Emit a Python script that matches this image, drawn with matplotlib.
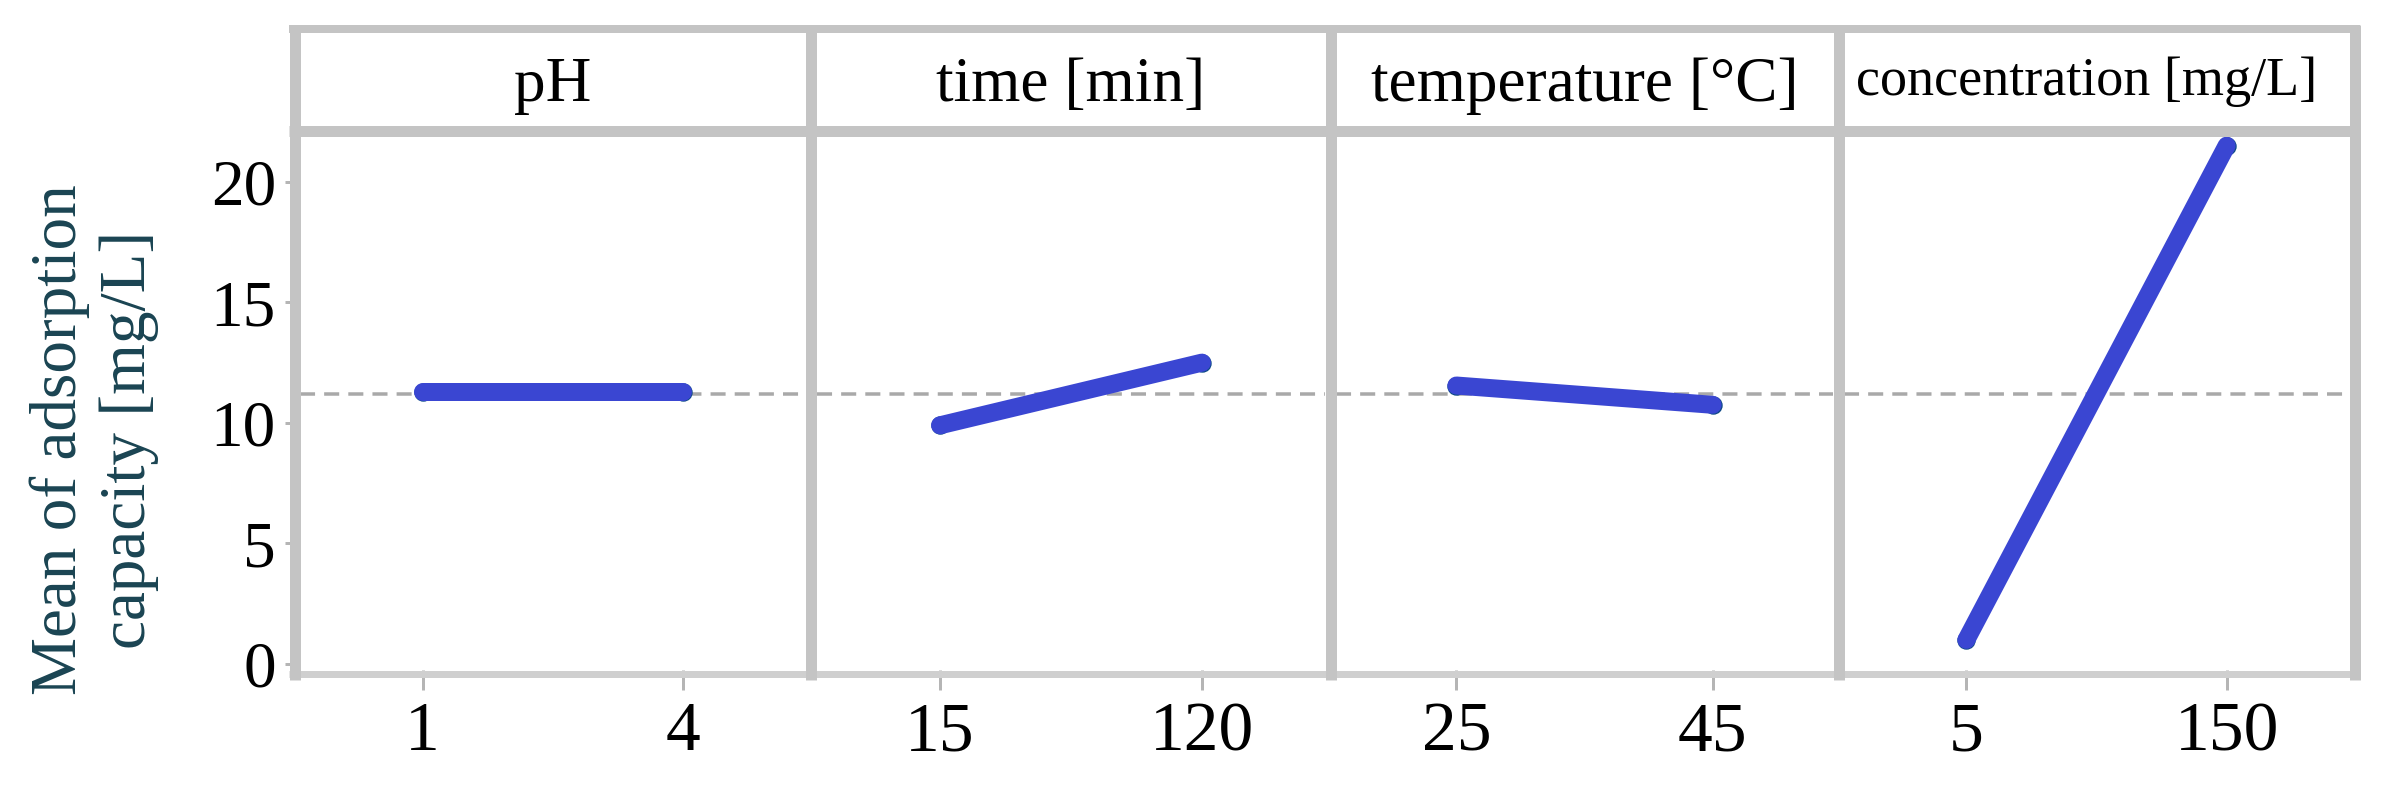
import matplotlib
matplotlib.use('Agg')
import matplotlib.pyplot as plt
from matplotlib.lines import Line2D

# ---- data ----
factors = ['pH', 'time [min]', 'temperature [°C]', 'concentration [mg/L]']
levels = [['1', '4'], ['15', '120'], ['25', '45'], ['5', '150']]
ph_means = [11.3, 11.3]
time_means = [9.9, 12.5]
temp_means = [11.55, 10.75]
conc_means = [1.0, 21.5]
grand_mean = 11.2
y_ticks = [0, 5, 10, 15, 20]
ylabel = 'Mean of adsorption\ncapacity [mg/L]'

means = [ph_means, time_means, temp_means, conc_means]

# ---- layout ----
W, H, DPI = 2383, 796, 100
PT = 72 / DPI
plt.rcParams['font.family'] = ['Liberation Serif', 'DejaVu Serif']
fig = plt.figure(figsize=(W / DPI, H / DPI), dpi=DPI)
fig.patch.set_facecolor('white')

def fx(px):
    return px / W

def fy(py):
    return 1 - py / H

panels = [(300, 806), (817, 1325), (1336, 1833), (1844, 2349)]
top_plot, bot_plot = 136, 670
frame_c = '#c4c4c4'
line_c = '#3a46d2'
mark_c = '#0d4a86'

head_sizes = [45.5, 45.5, 45.5, 39]
head_base = [101, 101, 101, 95]
head_dx = [0, 0, 0, -10]

for i, (x0, x1) in enumerate(panels):
    ax = fig.add_axes([fx(x0), fy(bot_plot), (x1 - x0) / W, (bot_plot - top_plot) / H])
    ax.set_facecolor('none')
    ax.set_xlim(-0.47, 1.47)
    ax.set_ylim(-0.25, 21.9)
    xs = [0, 1]
    ax.axhline(grand_mean, color='#a9a9a9', lw=3.5 * PT, linestyle=(0, (4.3, 2.6)), zorder=1)
    ax.plot(xs, means[i], 'o', color=mark_c, ms=17 * PT, zorder=2)
    ax.plot(xs, means[i], color=line_c, lw=18 * PT, solid_capstyle='round', zorder=3)
    for s in ax.spines.values():
        s.set_visible(False)
    ax.set_xticks(xs, levels[i])
    ax.tick_params(axis='x', length=20 * PT, width=3 * PT, color='#b5b5b5',
                   pad=12 * PT, labelsize=50)
    if i == 0:
        ax.set_yticks(y_ticks)
        ax.tick_params(axis='y', length=15 * PT, width=3 * PT, color='#b5b5b5',
                       pad=9 * PT, labelsize=47)
    else:
        ax.set_yticks([])
    fig.text(fx((x0 + x1) / 2 + head_dx[i]), fy(head_base[i]), factors[i],
             ha='center', va='baseline', fontsize=head_sizes[i], color='black')

# frame lines
def hline(y, x0, x1, w, c=frame_c):
    fig.add_artist(Line2D([fx(x0), fx(x1)], [fy(y), fy(y)], transform=fig.transFigure,
                          lw=w * PT, color=c, solid_capstyle='butt', zorder=5))

def vline(x, y0, y1, w, c=frame_c):
    fig.add_artist(Line2D([fx(x), fx(x)], [fy(y0), fy(y1)], transform=fig.transFigure,
                          lw=w * PT, color=c, solid_capstyle='butt', zorder=5))

hline(29, 289, 2360, 8)
hline(130.5, 289, 2360, 11)
hline(673.5, 289, 2360, 7, '#cfcfcf')
for xc in [294.5, 811.5, 1330.5, 1838.5, 2354.5]:
    vline(xc, 25, 680, 11)

fig.text(fx(94), fy(440), ylabel, rotation=90, ha='center', va='center',
         fontsize=47, color='#1a4452', linespacing=1.2, multialignment='center')

fig.savefig('out.png', dpi=DPI, facecolor='white')
